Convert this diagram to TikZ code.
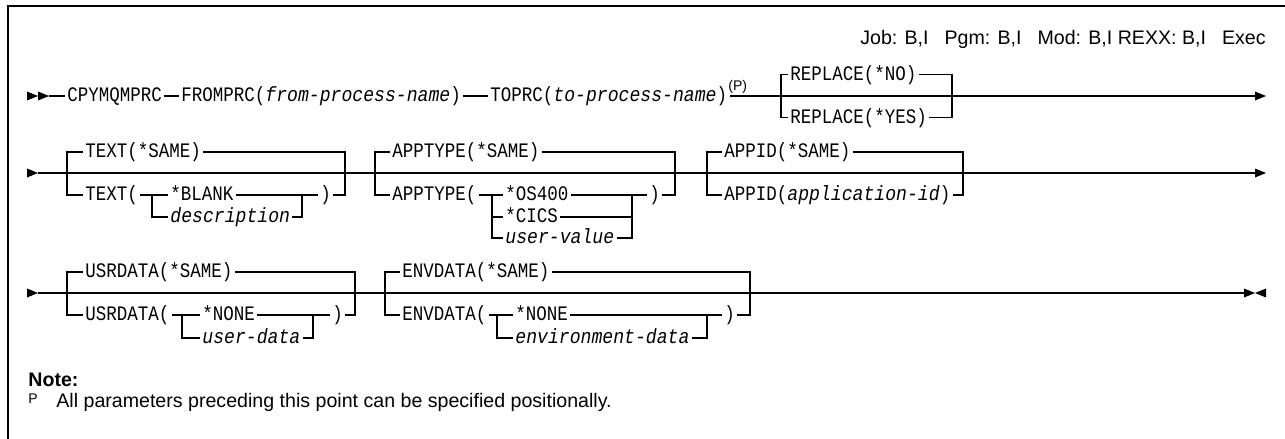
\documentclass[tikz,border=0pt]{standalone}
\usepackage{fontspec}
\setmainfont{Liberation Sans}
\newfontfamily\synfont[FakeStretch=0.85]{Liberation Mono}
\newfontfamily\synvarfont[FakeStretch=0.88]{Liberation Mono}
\newcommand{\synvar}[1]{{\synvarfont\itshape #1}}
\newcommand{\rtri}[1]{\fill (#1) ++(0,-4.5) -- ++(11,4.5) -- ++(-11,4.5) -- cycle;}
\newcommand{\ltri}[1]{\fill (#1) ++(0,-4.5) -- ++(-11,4.5) -- ++(11,4.5) -- cycle;}

\tikzset{
  synline/.style={line width=0.55pt},
  kw/.style={font=\synfont\fontsize{10.3pt}{12pt}\selectfont, anchor=west,
    inner xsep=1pt, inner ysep=0pt, text height=7pt, text depth=1.5pt},
  sanstext/.style={font=\fontsize{9.8pt}{11pt}\selectfont, inner sep=0pt}
}

\begin{document}
\begin{tikzpicture}[x=0.5pt, y=-0.5pt]
            \useasboundingbox (0,0) rectangle (1285,439);

            % frame
            \draw[line width=0.8pt] (8,439) -- (8,6) -- (1285,6);

            % environments
            \node[sanstext, anchor=east] (envs) at (1266,39)
              {Job: B,I\hspace{8pt}Pgm: B,I\hspace{8pt}Mod: B,I REXX: B,I\hspace{8pt}Exec};

            % Row 1 - command, from, to, replace
            \rtri{27,96} \rtri{38,96}
            \coordinate (r1s) at (49,96);
            \node[kw] (cmd) at (65,96) {CPYMQMPRC};
            \node[kw] (fromprc) at (179,96) {FROMPRC(\synvar{from-process-name})};
            \node[kw] (toprc) at (488,96) {TOPRC(\synvar{to-process-name})};
            \node[sanstext, font=\fontsize{7pt}{8pt}\selectfont, anchor=south west] (pmark) at (728,94) {(P)};
            \coordinate (j1) at (781,96);
            \coordinate (k1) at (952,96);
            \coordinate (e1) at (1255,96);
            \node[kw] (repno) at (788,74.5) {REPLACE(*NO)};
            \node[kw] (repyes) at (788,117.5) {REPLACE(*YES)};
            \draw[synline] (r1s) -- (cmd) (cmd) -- (fromprc) (fromprc) -- (toprc) (toprc) -- (e1);
            \draw[synline] (j1) |- (repno) (j1) |- (repyes) (repno) -| (k1) (repyes) -| (k1);
            \rtri{1255,96}

            % Row 2 - text, apptype, appid
            \rtri{27,173}
            \coordinate (r2s) at (38,173);
            \coordinate (e2) at (1255,173);
            \draw[synline] (r2s) -- (e2);
            \rtri{1255,173}

            % TEXT
            \coordinate (ta) at (67,173);
            \coordinate (tb) at (345,173);
            \coordinate (tia) at (152,195);
            \coordinate (tib) at (302,195);
            \node[kw] (textsame) at (83,152) {TEXT(*SAME)};
            \node[kw] (textopen) at (83,195) {TEXT(};
            \node[kw] (blank) at (168,195) {*BLANK};
            \node[kw] (descr) at (168,217) {\synvar{description}};
            \node[kw] (textclose) at (318,195) {)};
            \draw[synline] (ta) |- (textsame) (textsame) -| (tb);
            \draw[synline] (ta) |- (textopen) (textopen) -- (blank) (blank) -- (textclose) (textclose) -| (tb);
            \draw[synline] (tia) |- (descr) (descr) -| (tib);

            % APPTYPE
            \coordinate (aa) at (375,173);
            \coordinate (ab) at (675,173);
            \coordinate (aia) at (492,195);
            \coordinate (aib) at (632,195);
            \node[kw] (apsame) at (390,152) {APPTYPE(*SAME)};
            \node[kw] (apopen) at (390,195) {APPTYPE(};
            \node[kw] (os400) at (503,195) {*OS400};
            \node[kw] (cics) at (503,217) {*CICS};
            \node[kw] (uval) at (503,238) {\synvar{user-value}};
            \node[kw] (apclose) at (647,195) {)};
            \draw[synline] (aa) |- (apsame) (apsame) -| (ab);
            \draw[synline] (aa) |- (apopen) (apopen) -- (os400) (os400) -- (apclose) (apclose) -| (ab);
            \draw[synline] (aia) |- (cics) (aia) |- (uval) (cics) -| (aib) (uval) -| (aib);

            % APPID
            \coordinate (ia) at (707,173);
            \coordinate (ib) at (963,173);
            \node[kw] (idsame) at (722,152) {APPID(*SAME)};
            \node[kw] (idval) at (722,195) {APPID(\synvar{application-id})};
            \draw[synline] (ia) |- (idsame) (idsame) -| (ib) (ia) |- (idval) (idval) -| (ib);

            % Row 3 - usrdata, envdata
            \rtri{27,293}
            \coordinate (r3s) at (38,293);
            \coordinate (e3) at (1244,293);
            \draw[synline] (r3s) -- (e3);
            \rtri{1244,293} \ltri{1266,293}

            % USRDATA
            \coordinate (ua) at (67,293);
            \coordinate (ub) at (355,293);
            \coordinate (uia) at (182,315);
            \coordinate (uib) at (313,315);
            \node[kw] (usame) at (83,272) {USRDATA(*SAME)};
            \node[kw] (uopen) at (83,315) {USRDATA(};
            \node[kw] (unone) at (200,315) {*NONE};
            \node[kw] (udata) at (200,338) {\synvar{user-data}};
            \node[kw] (uclose) at (330,315) {)};
            \draw[synline] (ua) |- (usame) (usame) -| (ub);
            \draw[synline] (ua) |- (uopen) (uopen) -- (unone) (unone) -- (uclose) (uclose) -| (ub);
            \draw[synline] (uia) |- (udata) (udata) -| (uib);

            % ENVDATA
            \coordinate (va) at (385,293);
            \coordinate (vb) at (750,293);
            \coordinate (via) at (497,315);
            \coordinate (vib) at (707,315);
            \node[kw] (vsame) at (400,272) {ENVDATA(*SAME)};
            \node[kw] (vopen) at (400,315) {ENVDATA(};
            \node[kw] (vnone) at (513,315) {*NONE};
            \node[kw] (vdata) at (513,338) {\synvar{environment-data}};
            \node[kw] (vclose) at (722,315) {)};
            \draw[synline] (va) |- (vsame) (vsame) -| (vb);
            \draw[synline] (va) |- (vopen) (vopen) -- (vnone) (vnone) -- (vclose) (vclose) -| (vb);
            \draw[synline] (via) |- (vdata) (vdata) -| (vib);

            % Note
            \node[sanstext, anchor=west] (notehd) at (28,380) {\bfseries Note:};
            \node[sanstext, font=\fontsize{7pt}{8pt}\selectfont, anchor=west] (pnote) at (28,399) {P};
            \node[sanstext, anchor=west] (notetext) at (56,402) {All parameters preceding this point can be specified positionally.};
        \end{tikzpicture}
\end{document}
